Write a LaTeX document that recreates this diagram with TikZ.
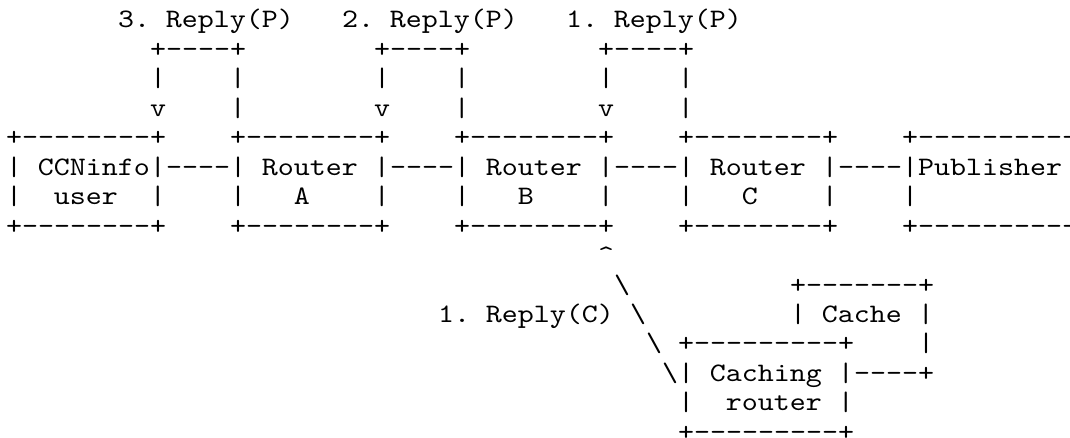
\documentclass[tikz,border=0pt]{standalone}
\usepackage{fontspec}
\setmonofont{lmmono10-regular.otf}[FakeStretch=1.1428]
\newcommand{\asctop}{\rule{0pt}{25pt}}

\begin{document}
\begin{tikzpicture}[
  x=16pt, y=-29.45pt,
  % --- one character cell = one grid unit ---
  asc/.style={font=\ttfamily\fontsize{26.67pt}{29.45pt}\selectfont, inner sep=0pt, outer sep=0pt, align=left, anchor=north west},
]
\useasboundingbox (-0.375,-0.1019) rectangle (66.5,14.737);

% =================== REPLY LABELS ===================
\node[asc] (lblP3) at (7,0) {\asctop 3.~Reply(P)};
\node[asc] (lblP2) at (21,0) {\asctop 2.~Reply(P)};
\node[asc] (lblP1) at (35,0) {\asctop 1.~Reply(P)};

% reply loops back into the previous hop
\node[asc] (loopU) at (9,1) {\asctop +----+\\|~~~~|\\v~~~~|};
\node[asc] (loopA) at (23,1) {\asctop +----+\\|~~~~|\\v~~~~|};
\node[asc] (loopB) at (37,1) {\asctop +----+\\|~~~~|\\v~~~~|};

% =================== MAIN PATH ===================
\node[asc] (user) at (0,4) {\asctop +--------+\\|~CCNinfo|\\|~~user~~|\\+--------+};
\node[asc] (rtrA) at (14,4) {\asctop +--------+\\|~Router~|\\|~~~A~~~~|\\+--------+};
\node[asc] (rtrB) at (28,4) {\asctop +--------+\\|~Router~|\\|~~~B~~~~|\\+--------+};
\node[asc] (rtrC) at (42,4) {\asctop +--------+\\|~Router~|\\|~~~C~~~~|\\+--------+};
\node[asc] (pub) at (56,4) {\asctop +----------\\|Publisher\\|\\+----------};

% links between hops
\node[asc] (lnkUA) at (10,5) {\asctop ----};
\node[asc] (lnkAB) at (24,5) {\asctop ----};
\node[asc] (lnkBC) at (38,5) {\asctop ----};
\node[asc] (lnkCP) at (52,5) {\asctop ----};

% =================== CACHE BRANCH ===================
\node[asc] (upB) at (37,8) {\asctop \textasciicircum};
\foreach \i in {0,...,3}
  \node[asc] (diag\i) at (38+\i,9+\i) {\asctop \textbackslash};
\node[asc] (lblC1) at (27,10) {\asctop 1.~Reply(C)};

\node[asc] (cache) at (49,9) {\asctop +-------+\\|~Cache~|};
\node[asc] (crtr) at (42,11) {\asctop +---------+\\|~Caching~|\\|~~router~|\\+---------+};
\node[asc] (lnkCache) at (53,11) {\asctop ~~~~|\\----+};

\end{tikzpicture}
\end{document}
